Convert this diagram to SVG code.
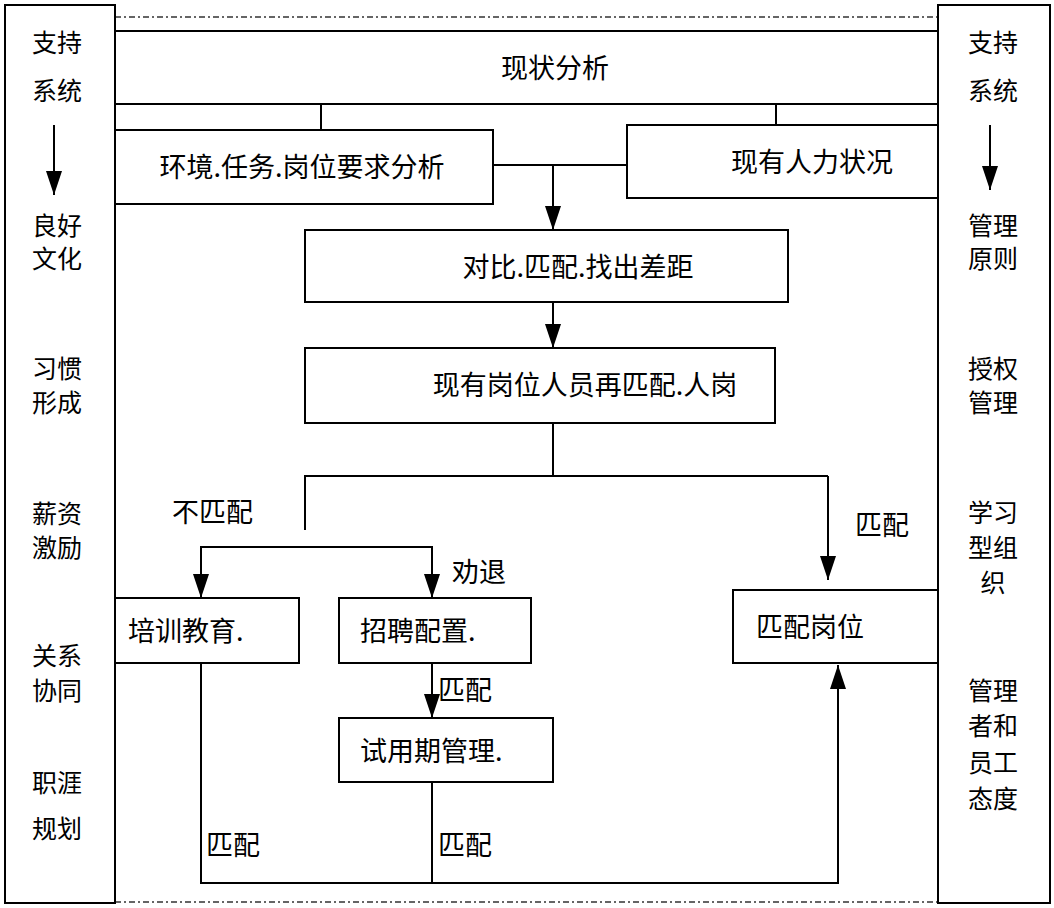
<svg xmlns="http://www.w3.org/2000/svg" width="1054" height="908" viewBox="0 0 1054 908">
<style>
.b{fill:#fff;stroke:#000;stroke-width:2}
.l{fill:none;stroke:#000;stroke-width:2}
.d{fill:none;stroke:#333;stroke-width:1.5;stroke-dasharray:6 3 2 3}
text{font-family:"Noto Sans CJK SC",sans-serif;font-size:27px;fill:#000}
.m{text-anchor:middle}
.c text{font-size:25px}
</style>
<defs>
<marker id="v" markerWidth="16" markerHeight="24" refX="8" refY="24" markerUnits="userSpaceOnUse" viewBox="0 0 16 24"><path d="M0,0L16,0L8,24z" fill="#000"/></marker>
<marker id="u" markerWidth="16" markerHeight="24" refX="8" refY="0" markerUnits="userSpaceOnUse" viewBox="0 0 16 24"><path d="M0,24L16,24L8,0z" fill="#000"/></marker></defs>
<line class="d" x1="115" y1="17" x2="938" y2="17"/>
<line class="d" x1="115" y1="902" x2="938" y2="902"/>
<g id="left"><rect class="b" x="5" y="5" width="110" height="898"/>
<g class="m c"><text x="57" y="52">支持</text><text x="57" y="100">系统</text><text x="57" y="235">良好</text><text x="57" y="268">文化</text><text x="57" y="378">习惯</text><text x="57" y="412">形成</text><text x="57" y="523">薪资</text><text x="57" y="557">激励</text><text x="57" y="665">关系</text><text x="57" y="700">协同</text><text x="57" y="792">职涯</text><text x="57" y="838">规划</text></g>
<line class="l" x1="54" y1="125" x2="54" y2="195" marker-end="url(#v)"/></g>
<g id="right"><rect class="b" x="938" y="5" width="112" height="898"/>
<g class="m c"><text x="993" y="52">支持</text><text x="993" y="100">系统</text><text x="993" y="235">管理</text><text x="993" y="268">原则</text><text x="993" y="378">授权</text><text x="993" y="412">管理</text><text x="993" y="522">学习</text><text x="993" y="557">型组</text><text x="993" y="592">织</text><text x="993" y="700">管理</text><text x="993" y="735">者和</text><text x="993" y="772">员工</text><text x="993" y="808">态度</text></g>
<line class="l" x1="990" y1="125" x2="990" y2="190" marker-end="url(#v)"/></g>
<g id="connectors">
<polyline class="l" points="321,104 321,130"/>
<polyline class="l" points="776,98 776,125"/>
<polyline class="l" points="493,165 627,165"/>
<line class="l" x1="553" y1="165" x2="553" y2="230" marker-end="url(#v)"/>
<line class="l" x1="553" y1="302" x2="553" y2="348" marker-end="url(#v)"/>
<polyline class="l" points="553,423 553,476"/>
<polyline class="l" points="305,530 305,476 828,476"/>
<line class="l" x1="828" y1="476" x2="828" y2="580" marker-end="url(#v)"/>
<polyline class="l" points="201,560 201,547 432,547 432,560"/>
<line class="l" x1="201" y1="547" x2="201" y2="598" marker-end="url(#v)"/>
<line class="l" x1="432" y1="547" x2="432" y2="598" marker-end="url(#v)"/>
<line class="l" x1="432" y1="663" x2="432" y2="718" marker-end="url(#v)"/>
<polyline class="l" points="201,663 201,883 838,883 838,680"/>
<line class="l" x1="838" y1="883" x2="838" y2="665" marker-end="url(#u)"/>
<line class="l" x1="432" y1="782" x2="432" y2="883"/>
<text x="172" y="522">不匹配</text><text x="855" y="535">匹配</text><text x="452" y="582">劝退</text>
<text x="438" y="700">匹配</text><text x="206" y="855">匹配</text><text x="438" y="855">匹配</text>
</g>
<g id="n1"><rect class="b" x="115" y="31" width="823" height="73"/><text class="m" x="555" y="78">现状分析</text></g>
<g id="n2"><rect class="b" x="115" y="130" width="378" height="74"/><text class="m" x="302" y="177">环境.任务.岗位要求分析</text></g>
<g id="n3"><rect class="b" x="627" y="125" width="311" height="73"/><text class="m" x="812" y="172">现有人力状况</text></g>
<g id="n4"><rect class="b" x="305" y="230" width="483" height="72"/><text class="m" x="578" y="277">对比.匹配.找出差距</text></g>
<g id="n5"><rect class="b" x="305" y="348" width="470" height="75"/><text class="m" x="585" y="395">现有岗位人员再匹配.人岗</text></g>
<g id="n6"><rect class="b" x="115" y="598" width="184" height="65"/><text x="128" y="641">培训教育.</text></g>
<g id="n7"><rect class="b" x="339" y="598" width="192" height="65"/><text x="360" y="641">招聘配置.</text></g>
<g id="n8"><rect class="b" x="733" y="590" width="205" height="73"/><text x="756" y="637">匹配岗位</text></g>
<g id="n9"><rect class="b" x="339" y="718" width="214" height="64"/><text x="360" y="761">试用期管理.</text></g>
</svg>
